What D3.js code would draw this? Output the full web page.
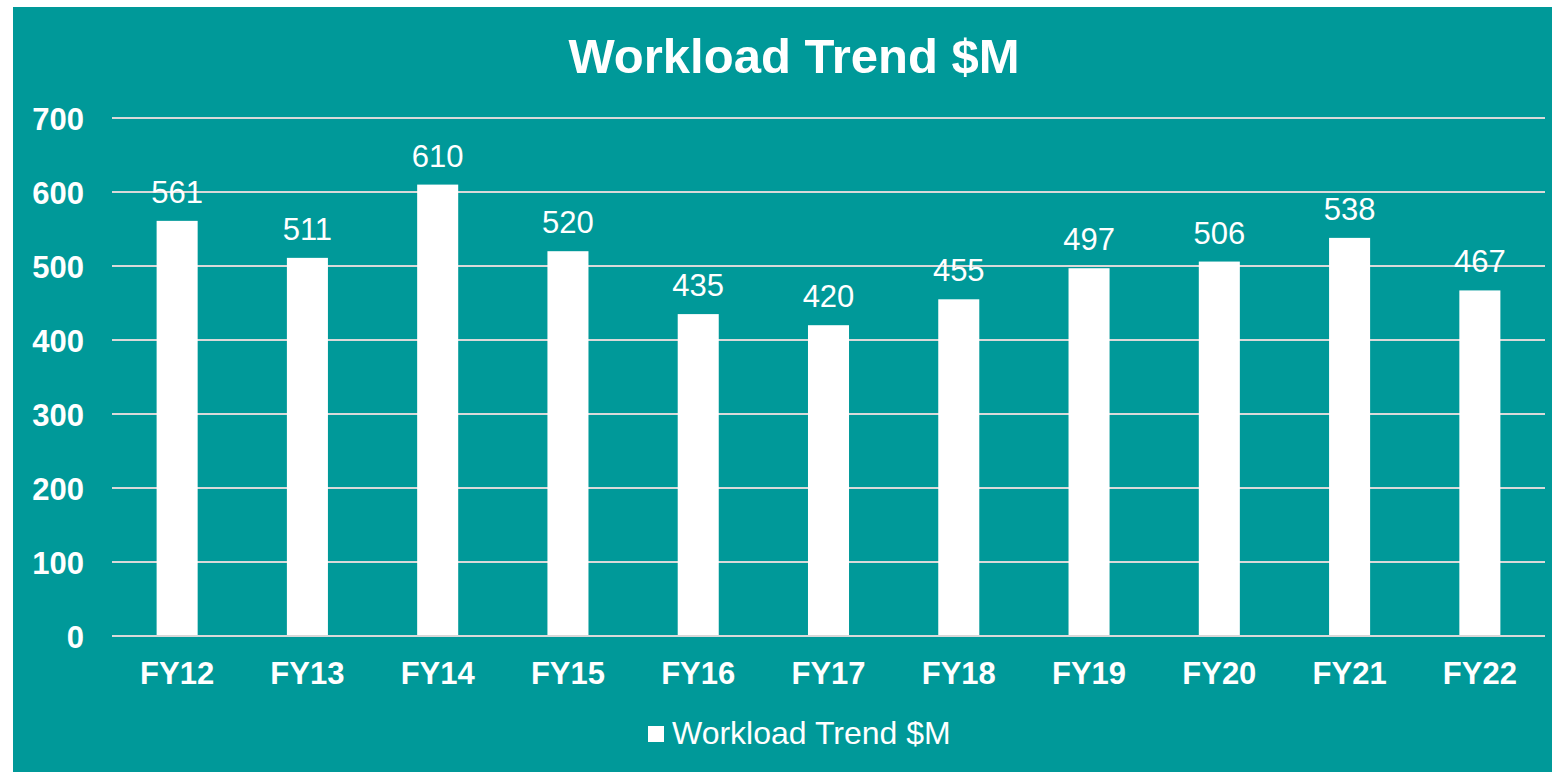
<!DOCTYPE html>
<html>
<head>
<meta charset="utf-8">
<script src="https://cdn.jsdelivr.net/npm/d3@7"></script>
<style>
  body { margin: 0; background: #fff; }
  svg text { font-family: "Liberation Sans", Arial, sans-serif; fill: #fff; }
</style>
</head>
<body>
<div id="container"></div>
<script>
// chart data
const years = ["FY12", "FY13", "FY14", "FY15", "FY16", "FY17", "FY18", "FY19", "FY20", "FY21", "FY22"];
const workload = [561, 511, 610, 520, 435, 420, 455, 497, 506, 538, 467];
const yTicks = [0, 100, 200, 300, 400, 500, 600, 700];
const seriesName = "Workload Trend $M";

const W = 1552, H = 772;
const teal = "#009999";

const svg = d3.select("#container")
  .append("svg")
  .attr("width", W)
  .attr("height", H);

// background panel
svg.append("rect")
  .attr("x", 13).attr("y", 7)
  .attr("width", W - 13).attr("height", H - 7)
  .attr("fill", teal);

const x = d3.scaleBand()
  .domain(years)
  .range([112, 1545])
  .paddingInner(0.685)
  .paddingOuter(0.3425);

const y = d3.scaleLinear()
  .domain([0, 700])
  .range([636, 118]);

// gridlines
svg.append("g")
  .selectAll("line")
  .data(yTicks)
  .enter()
  .append("line")
  .attr("x1", 112).attr("x2", 1545)
  .attr("y1", d => y(d)).attr("y2", d => y(d))
  .attr("stroke", "#d9d9d9")
  .attr("stroke-width", 2);

// y axis labels
const yAxis = d3.axisLeft(y).tickValues(yTicks).tickSize(0).tickPadding(0);
svg.append("g")
  .attr("transform", "translate(84,0)")
  .call(yAxis)
  .call(g => g.select(".domain").remove())
  .selectAll("text")
  .attr("fill", "#fff")
  .style("font-size", "31px")
  .style("font-weight", "bold")
  .attr("dy", "0.36em");

// x axis labels
const xAxis = d3.axisBottom(x).tickSize(0).tickPadding(0);
svg.append("g")
  .attr("transform", "translate(0,684)")
  .call(xAxis)
  .call(g => g.select(".domain").remove())
  .selectAll("text")
  .attr("fill", "#fff")
  .style("font-size", "31px")
  .style("font-weight", "bold")
  .attr("y", 0)
  .attr("dy", "0");

// bars
svg.append("g")
  .selectAll("rect")
  .data(workload)
  .enter()
  .append("rect")
  .attr("x", (d, i) => x(years[i]))
  .attr("y", d => y(d))
  .attr("width", x.bandwidth())
  .attr("height", d => y(0) - y(d))
  .attr("fill", "#fff");

// redraw zero line over bars
svg.append("line")
  .attr("x1", 112).attr("x2", 1545)
  .attr("y1", y(0)).attr("y2", y(0))
  .attr("stroke", "#d9d9d9")
  .attr("stroke-width", 2);

// data labels
svg.append("g")
  .selectAll("text")
  .data(workload)
  .enter()
  .append("text")
  .attr("x", (d, i) => x(years[i]) + x.bandwidth() / 2)
  .attr("y", d => y(d) - 18)
  .attr("text-anchor", "middle")
  .style("font-size", "31px")
  .text(d => d);

// title
svg.append("text")
  .attr("x", 794)
  .attr("y", 73)
  .attr("text-anchor", "middle")
  .style("font-size", "49px")
  .style("font-weight", "bold")
  .text(seriesName);

// legend
const legend = svg.append("g");
legend.append("rect")
  .attr("x", 648).attr("y", 726)
  .attr("width", 16).attr("height", 16)
  .attr("fill", "#fff");
legend.append("text")
  .attr("x", 672)
  .attr("y", 744)
  .style("font-size", "32px")
  .text(seriesName);
</script>
</body>
</html>
